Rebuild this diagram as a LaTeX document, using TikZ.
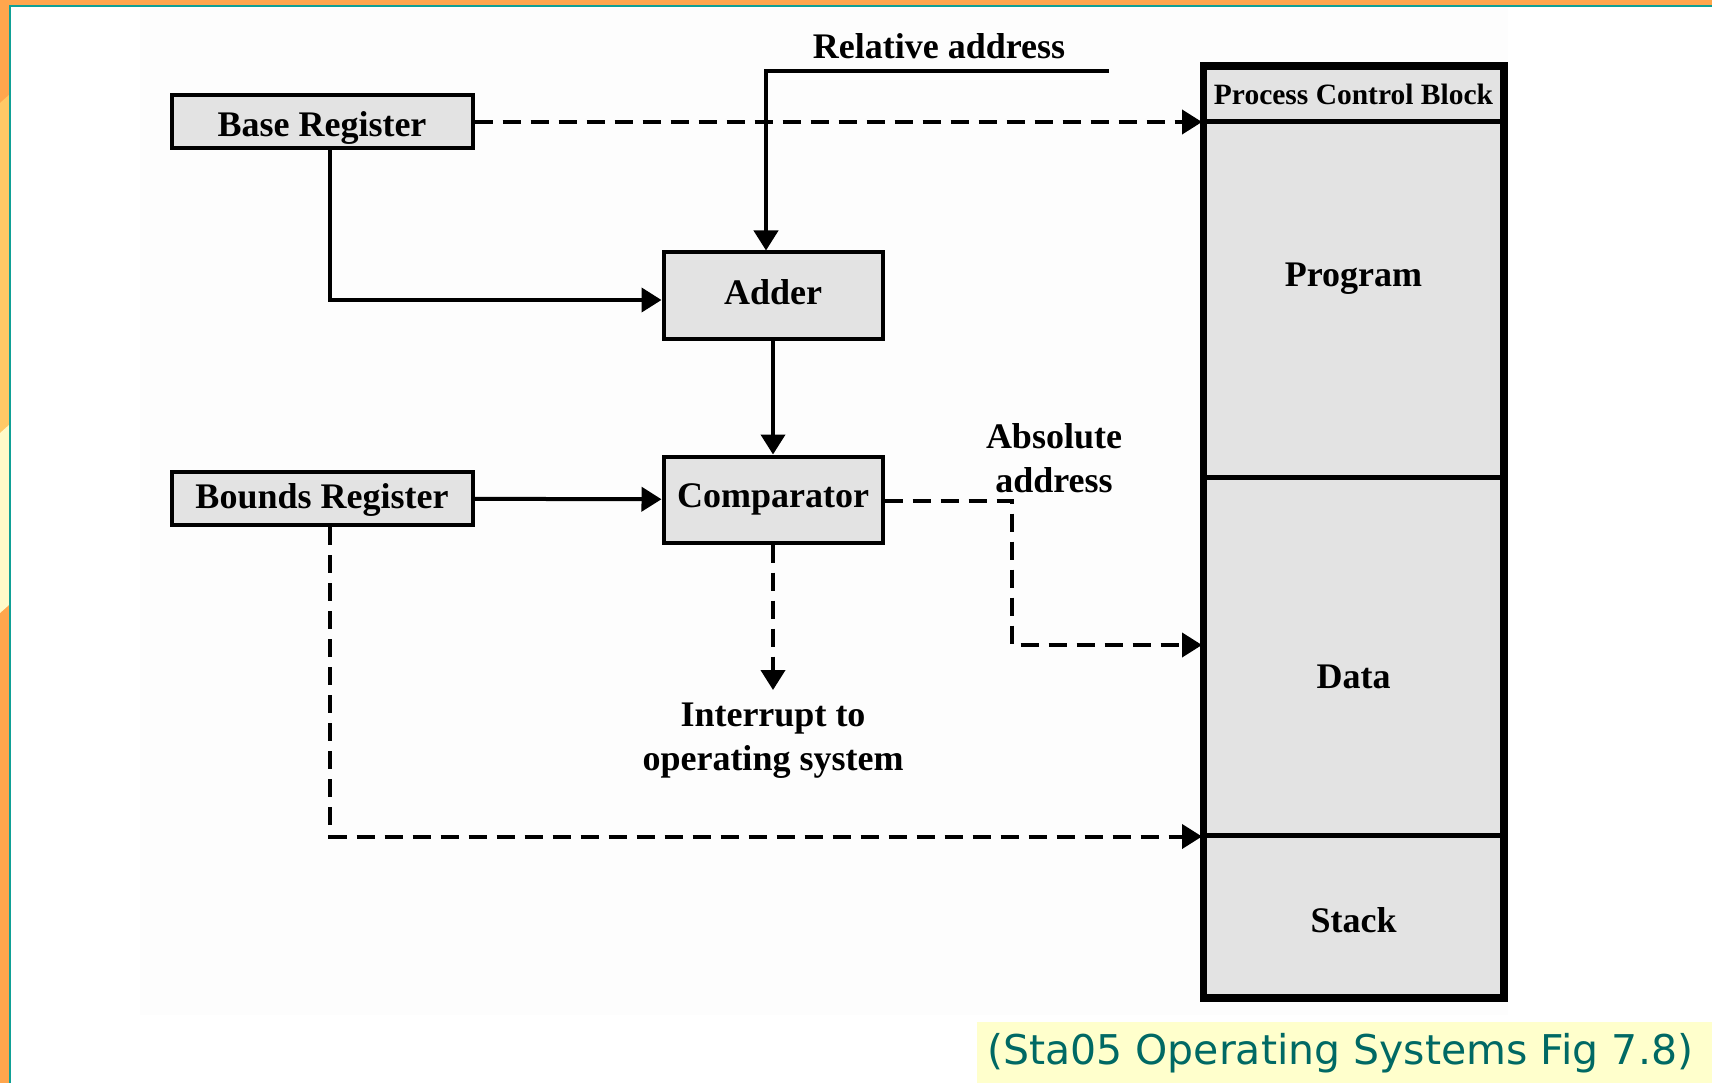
\documentclass[tikz,border=0pt]{standalone}
\usepackage{fontspec}
\setmainfont{Liberation Serif}
\newfontfamily\capfont{DejaVu Sans}
\usetikzlibrary{arrows.meta}

\definecolor{slideorange}{RGB}{255,166,77}
\definecolor{slidelightorange}{RGB}{255,201,102}
\definecolor{slidepale}{RGB}{255,250,200}
\definecolor{slideteal}{RGB}{15,160,150}
\definecolor{figwhite}{RGB}{253,253,253}
\definecolor{boxgrey}{RGB}{227,227,227}
\definecolor{capbg}{RGB}{255,255,204}
\definecolor{captext}{RGB}{0,105,100}

\begin{document}
\begin{tikzpicture}[x=1pt,y=-1pt,
  every node/.style={font=\bfseries\fontsize{36}{44}\selectfont, align=center},
  regbox/.style={draw=black, line width=4pt, fill=boxgrey, inner sep=0pt,
                 text height=24pt},
  pcbpart/.style={draw=black, line width=5pt, fill=boxgrey, inner sep=0pt,
                  minimum width=298pt},
  conn/.style={line width=4pt, -{Triangle[length=20pt,width=24pt]}},
  dconn/.style={conn, dash pattern=on 18pt off 10pt}]

% slide frame and background
\useasboundingbox (0,0) rectangle (1712,1083);
\fill[slideorange] (0,0) rectangle (1712,1083);
\fill[slidelightorange] (0,103) -- (9,95) -- (9,425) -- (0,433) -- cycle;
\fill[slidepale] (0,433) -- (9,425) -- (9,605) -- (0,613) -- cycle;
\fill[white] (11,7) rectangle (1712,1083);
\draw[slideteal, line width=2pt] (10,1083) -- (10,6) -- (1712,6);
\fill[figwhite] (140,8) rectangle (1508,1015);

% caption
\fill[capbg] (977,1022) rectangle (1712,1083);
\node[font=\capfont\fontsize{41}{48}\selectfont, text=captext, anchor=base west,
      inner sep=0pt] (caption) at (987,1064) {(Sta05 Operating Systems Fig 7.8)};

% registers and arithmetic units
\node[regbox, minimum width=301pt, minimum height=53pt, text height=30pt, text depth=0pt]
  (base) at (322,122) {Base Register};
\node[regbox, minimum width=301pt, minimum height=53pt, text depth=4pt]
  (bounds) at (322,498.5) {Bounds Register};
\node[regbox, minimum width=219pt, minimum height=86pt, text depth=7pt]
  (adder) at (773,295.5) {Adder};
\node[regbox, minimum width=219pt, minimum height=86pt, text depth=8pt]
  (comp) at (773,499.5) {Comparator};

% process image in main memory
\node[pcbpart, minimum height=54.5pt] (pcbhead) at (1353.5,94.75) {};
\node[pcbpart, minimum height=355pt] (program) at (1353.5,299.5) {};
\node[pcbpart, minimum height=358pt] (data) at (1353.5,656) {};
\node[pcbpart, minimum height=161.5pt] (stack) at (1353.5,915.75) {};
\draw[line width=5pt] (pcbhead.north west) rectangle (stack.south east);

\node[font=\bfseries\fontsize{29.5}{34}\selectfont] (pcbtext) at (1353.5,94) {Process Control Block};
\node (programtext) at (1353.5,278.5) {Program};
\node (datatext) at (1353.5,677) {Data};
\node (stacktext) at (1353.5,920) {Stack};

% free labels
\node (reladdr) at (939,46) {Relative address};
\node (absaddr) at (1054,458) {Absolute\\address};
\node[anchor=north] (intr) at (773,699.5) {Interrupt to\\operating system};
\coordinate (relstart) at (1109,71);
\coordinate (absbend) at (1012,645);

% solid connectors
\draw[conn] (relstart) -| ([xshift=-7pt]adder.north);
\draw[conn] ([xshift=8pt]base.south) |- ([yshift=-4.5pt]adder.west);
\draw[conn] (adder) -- (comp);
\draw[conn] (bounds) -- (comp);

% dashed connectors
\draw[dconn] (base.east) -- (base.east -| program.west);
\draw[dconn] ([yshift=-1.5pt]comp.east) -| (absbend) -- (absbend -| data.west);
\draw[dconn] (comp) -- ([yshift=9.5pt]intr.north);
\draw[dconn] ([xshift=8pt]bounds.south) |- ([yshift=-4pt]stack.north west);
\end{tikzpicture}
\end{document}
